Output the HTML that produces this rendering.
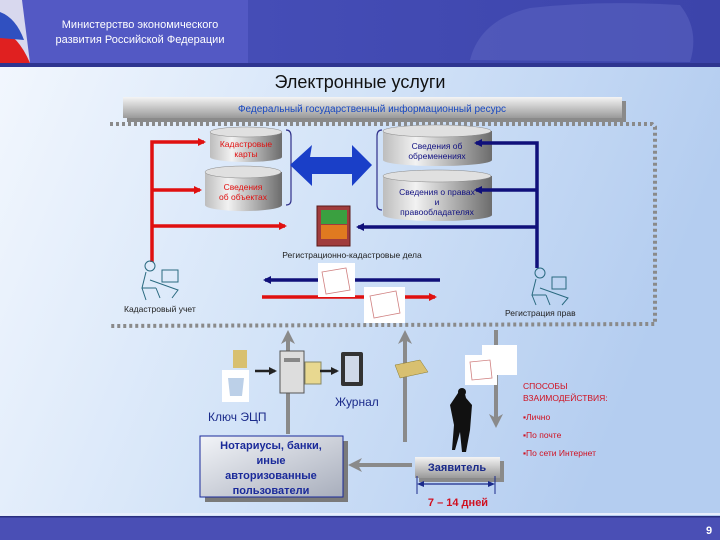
<!DOCTYPE html>
<html><head><meta charset="utf-8"><style>
body{margin:0;width:720px;height:540px;overflow:hidden;font-family:"Liberation Sans",sans-serif;}
</style></head><body>
<svg width="720" height="540" viewBox="0 0 720 540" xmlns="http://www.w3.org/2000/svg" font-family="Liberation Sans, sans-serif">
<defs>
<linearGradient id="bg" x1="0" y1="0" x2="1" y2="0.3"><stop offset="0" stop-color="#f4f8fe"/><stop offset="0.5" stop-color="#d4e4f8"/><stop offset="1" stop-color="#b4cdf0"/></linearGradient>
<linearGradient id="hd" x1="0" y1="0" x2="1" y2="0"><stop offset="0" stop-color="#4a52bd"/><stop offset="1" stop-color="#3c44aa"/></linearGradient>
<linearGradient id="ban" x1="0" y1="0" x2="0" y2="1"><stop offset="0" stop-color="#f4f4f4"/><stop offset="1" stop-color="#9a9a9a"/></linearGradient>
<linearGradient id="cyl" x1="0" y1="0" x2="1" y2="0"><stop offset="0" stop-color="#bdbdbd"/><stop offset="0.3" stop-color="#f2f2f2"/><stop offset="1" stop-color="#6c6c6c"/></linearGradient>
<linearGradient id="box" x1="0" y1="0" x2="1" y2="1"><stop offset="0" stop-color="#f2f4f8"/><stop offset="1" stop-color="#a8aebc"/></linearGradient>
<marker id="ar" markerWidth="8" markerHeight="8" refX="6" refY="4" orient="auto" markerUnits="userSpaceOnUse"><path d="M0,0 L8,4 L0,8z" fill="#e01010"/></marker>
<marker id="ab" markerWidth="8" markerHeight="8" refX="6" refY="4" orient="auto" markerUnits="userSpaceOnUse"><path d="M0,0 L8,4 L0,8z" fill="#10107a"/></marker>
<marker id="ag" markerWidth="14" markerHeight="14" refX="10" refY="7" orient="auto" markerUnits="userSpaceOnUse"><path d="M0,0 L14,7 L0,14 L4,7z" fill="#8a8a8a"/></marker>
<marker id="ak" markerWidth="8" markerHeight="8" refX="6" refY="4" orient="auto" markerUnits="userSpaceOnUse"><path d="M0,0 L8,4 L0,8z" fill="#222"/></marker>
</defs>
<rect width="720" height="540" fill="url(#bg)"/>
<!-- header -->
<rect width="720" height="63" fill="url(#hd)"/>
<rect x="0" y="0" width="248" height="63" fill="#5359c4"/>
<path d="M0,0 L22,0 L30,63 L0,63z" fill="#d8d8ee"/>
<path d="M0,30 Q18,35 30,63 L0,63z" fill="#e02020"/>
<path d="M0,12 Q16,18 24,40 L0,38z" fill="#3050c0"/>
<path d="M470,60 Q480,20 530,8 Q600,0 680,5 Q700,30 690,62z" fill="#5a62c0" opacity="0.6"/>
<rect x="0" y="63" width="720" height="4" fill="#2e3590"/>
<text x="140" y="28" fill="#fff" font-size="11" text-anchor="middle">Министерство экономического</text>
<text x="140" y="43" fill="#fff" font-size="11" text-anchor="middle">развития Российской Федерации</text>
<text x="360" y="88" font-size="18" text-anchor="middle" fill="#111">Электронные услуги</text>
<!-- banner -->
<rect x="127" y="101" width="499" height="21" fill="#8a8a8a"/>
<rect x="123" y="97" width="499" height="21" fill="url(#ban)"/>
<text x="372" y="112" font-size="10" fill="#1848c0" text-anchor="middle">Федеральный государственный информационный ресурс</text>
<!-- dotted frame -->
<path d="M110,124 L652,124 L655,127 L655,324 L110,326" fill="none" stroke="#8a8a8a" stroke-width="4" stroke-dasharray="3,3"/>
<!-- cylinders -->
<g font-size="8.5" text-anchor="middle">
<path d="M210,132 L210,157 A36,5 0 0 0 282,157 L282,132z" fill="url(#cyl)"/><ellipse cx="246" cy="132" rx="36" ry="5" fill="#e0e0e0" stroke="#888" stroke-width="0.5"/>
<text x="246" y="147" fill="#e01010">Кадастровые</text><text x="246" y="157" fill="#e01010">карты</text>
<path d="M205,172 L205,205 A38,6 0 0 0 282,205 L282,172z" fill="url(#cyl)"/><ellipse cx="243" cy="172" rx="38" ry="6" fill="#e0e0e0" stroke="#888" stroke-width="0.5"/>
<text x="243" y="190" fill="#e01010">Сведения</text><text x="243" y="200" fill="#e01010">об объектах</text>
<path d="M383,131 L383,160 A54,6 0 0 0 492,160 L492,131z" fill="url(#cyl)"/><ellipse cx="437" cy="131" rx="54" ry="6" fill="#e0e0e0" stroke="#888" stroke-width="0.5"/>
<text x="437" y="149" fill="#101080">Сведения об</text><text x="437" y="159" fill="#101080">обременениях</text>
<path d="M383,176 L383,215 A54,6 0 0 0 492,215 L492,176z" fill="url(#cyl)"/><ellipse cx="437" cy="176" rx="54" ry="6" fill="#e0e0e0" stroke="#888" stroke-width="0.5"/>
<text x="437" y="195" fill="#101080">Сведения о правах</text><text x="437" y="205" fill="#101080">и</text><text x="437" y="215" fill="#101080">правообладателях</text>
</g>
<path d="M286,130 Q291,130 291,136 L291,200 Q291,205 286,205" fill="none" stroke="#30308a" stroke-width="1.2"/>
<path d="M382,130 Q377,130 377,136 L377,205 Q377,210 382,210" fill="none" stroke="#30308a" stroke-width="1.2"/>
<path d="M290,165 L312,145 L310,157 L352,157 L352,145 L372,165 L352,186 L352,174 L312,174 L312,186z" fill="#1a3fc8"/>
<!-- red lines -->
<g stroke="#e01010" stroke-width="3.5" fill="none">
<path d="M152,262 L152,142 L204,142" marker-end="url(#ar)"/>
<path d="M152,190 L200,190" marker-end="url(#ar)"/>
<path d="M152,226 L285,226" marker-end="url(#ar)"/>
<path d="M262,297 L435,297" marker-end="url(#ar)"/>
</g>
<g stroke="#10107a" stroke-width="3.5" fill="none">
<path d="M537,268 L537,143 L476,143" marker-end="url(#ab)"/>
<path d="M537,190 L476,190" marker-end="url(#ab)"/>
<path d="M537,227 L358,227" marker-end="url(#ab)"/>
<path d="M440,280 L265,280" marker-end="url(#ab)"/>
</g>
<!-- cabinet -->
<rect x="317" y="206" width="33" height="40" fill="#a03c3c" stroke="#5a1a1a"/>
<rect x="321" y="210" width="26" height="14" fill="#3aa040"/>
<rect x="321" y="225" width="26" height="14" fill="#e07a20"/>
<text x="352" y="258" font-size="8.5" text-anchor="middle" fill="#222">Регистрационно-кадастровые дела</text>
<!-- maps -->
<rect x="318" y="263" width="37" height="34" fill="#fff"/><path d="M322,272 L346,268 L350,290 L326,294z" fill="none" stroke="#d08080" stroke-width="0.8"/>
<rect x="364" y="287" width="41" height="36" fill="#fff"/><path d="M370,296 L396,291 L400,313 L374,318z" fill="none" stroke="#d08080" stroke-width="0.8"/>
<!-- persons at desk -->
<g stroke="#2a6a80" fill="none" stroke-width="1">
<circle cx="150" cy="266" r="5"/><path d="M146,272 L142,288 L156,288 M142,288 L146,300 M156,288 L160,298 M162,270 L178,270 L178,282 L162,282z M150,280 L178,290 L172,298"/>
<circle cx="540" cy="273" r="5"/><path d="M536,279 L532,295 L546,295 M532,295 L536,305 M546,295 L550,305 M552,277 L566,277 L566,289 L552,289z M540,288 L568,298 L562,305"/>
</g>
<text x="124" y="312" font-size="8.5" fill="#222">Кадастровый учет</text>
<text x="505" y="316" font-size="8.5" fill="#222">Регистрация прав</text>
<!-- grey arrows -->
<g stroke="#8a8a8a" stroke-width="4" fill="none">
<path d="M288,434 L288,334" marker-end="url(#ag)"/>
<path d="M405,442 L405,334" marker-end="url(#ag)"/>
<path d="M496,330 L496,424" marker-end="url(#ag)"/>
<path d="M412,465 L352,465" marker-end="url(#ag)"/>
</g>
<!-- icons -->
<rect x="233" y="350" width="14" height="18" fill="#d8c070"/>
<rect x="222" y="370" width="27" height="32" fill="#fff"/><path d="M228,378 L244,378 L242,396 L230,396z" fill="#bcd0e8"/>
<path d="M255,371 L275,371" stroke="#222" stroke-width="2.5" marker-end="url(#ak)"/>
<rect x="280" y="351" width="24" height="42" fill="#ddd" stroke="#555"/><rect x="284" y="358" width="16" height="4" fill="#888"/>
<rect x="305" y="362" width="16" height="22" fill="#e8d890" stroke="#886"/>
<path d="M320,371 L337,371" stroke="#222" stroke-width="2.5" marker-end="url(#ak)"/>
<rect x="341" y="352" width="22" height="34" fill="#333" rx="2"/><rect x="345" y="356" width="14" height="26" fill="#cfd8e8"/>
<path d="M395,365 L420,360 L428,372 L400,378z" fill="#d8c070" stroke="#8a7a30" stroke-width="0.5"/>
<rect x="482" y="345" width="35" height="30" fill="#fff"/>
<rect x="465" y="355" width="32" height="30" fill="#fff"/><path d="M470,362 L490,360 L492,378 L472,380z" fill="none" stroke="#d08080" stroke-width="0.8"/>
<!-- person -->
<path d="M460,390 L464,390 L466,398 L472,405 L470,430 L466,452 L462,452 L460,432 L455,450 L452,450 L454,425 L450,405z" fill="#111"/>
<circle cx="462" cy="392" r="4" fill="#111"/>
<text x="335" y="406" font-size="12" fill="#1a2a8a">Журнал</text>
<text x="208" y="421" font-size="12" fill="#1a2a8a">Ключ ЭЦП</text>
<!-- notary box -->
<rect x="205" y="441" width="143" height="61" fill="#7a7a7a"/>
<rect x="200" y="436" width="143" height="61" fill="url(#box)" stroke="#1a2a9a" stroke-width="1"/>
<g font-size="11" font-weight="bold" fill="#1a2a9a" text-anchor="middle">
<text x="271" y="449">Нотариусы, банки,</text><text x="271" y="464">иные</text><text x="271" y="479">авторизованные</text><text x="271" y="494">пользователи</text>
</g>
<rect x="419" y="461" width="85" height="21" fill="#8a8a8a"/>
<rect x="415" y="457" width="85" height="21" fill="url(#ban)"/>
<text x="457" y="471" font-size="11" font-weight="bold" fill="#1a2a8a" text-anchor="middle">Заявитель</text>
<path d="M417,476 L417,494 M495,476 L495,494" stroke="#1a2a8a"/>
<path d="M419,484 L493,484" stroke="#1a2a8a" stroke-width="1.2"/>
<path d="M417,484 L424,481 L424,487z M495,484 L488,481 L488,487z" fill="#1a2a8a"/>
<text x="458" y="506" font-size="11" font-weight="bold" fill="#d01020" text-anchor="middle">7 – 14 дней</text>
<g font-size="8.5" fill="#d01020">
<text x="523" y="389">СПОСОБЫ</text><text x="523" y="401">ВЗАИМОДЕЙСТВИЯ:</text>
<text x="523" y="420">▪Лично</text><text x="523" y="438">▪По почте</text><text x="523" y="456">▪По сети Интернет</text>
</g>
<!-- footer -->
<rect x="0" y="513" width="720" height="2" fill="#e8eefc"/>
<rect x="0" y="516" width="720" height="24" fill="#4a4fb5"/>
<rect x="0" y="516" width="720" height="1.5" fill="#2a2f80"/>
<text x="709" y="534" font-size="11" font-weight="bold" fill="#fff" text-anchor="middle">9</text>
</svg>
</body></html>
